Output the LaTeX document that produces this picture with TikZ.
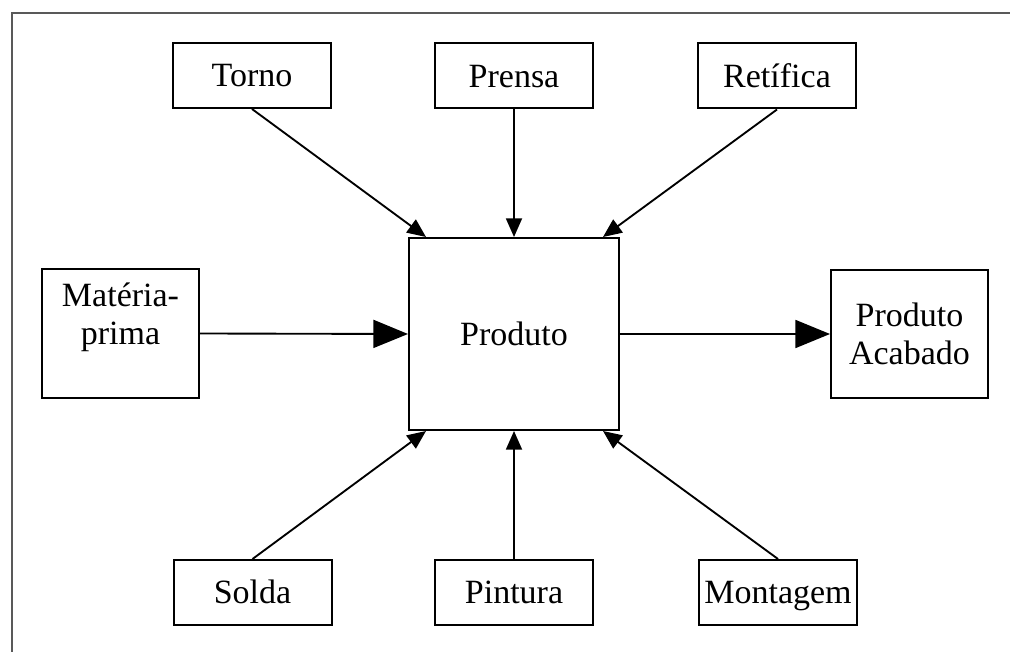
\documentclass[tikz,border=0pt]{standalone}
\usepackage{fontspec}
\setmainfont{Liberation Serif}
\usetikzlibrary{arrows.meta,calc}

\begin{document}
\begin{tikzpicture}[x=0.75pt,y=-0.75pt,
    box/.style={draw,line width=1.5pt,minimum width=158*0.75pt,minimum height=65*0.75pt,inner sep=0pt},
    txt/.style={font=\fontsize{25.5}{28.5}\selectfont,align=center},
    oneline/.style={txt,text height=17pt,text depth=0pt},
    arr/.style={line width=1.4pt,-{Triangle[length=14pt,width=12pt]}},
    bigarr/.style={line width=1.4pt,-{Triangle[length=26pt,width=21pt]}}]
        \useasboundingbox (0,0) rectangle (1010,652);
        \draw[line width=2.2pt,black!65] (12,652)--(12,13)--(1010,13);
        % caixas
        \node[box,oneline] (torno) at (252,75.5) {Torno};
        \node[box,oneline] (prensa) at (514,76) {Prensa};
        \node[box,oneline] (retifica) at (777,76) {Retífica};
        \node[box,oneline] (solda) at (252.5,592.5) {Solda};
        \node[box,oneline] (pintura) at (514,592.5) {Pintura};
        \node[box,oneline] (montagem) at (778,592.5) {Montagem};
        \node[box,minimum width=157*0.75pt,minimum height=129*0.75pt] (materia) at (120.5,333.5) {};
        \node[txt] (materiatxt) at (120.5,317) {Matéria-\\prima};
        \node[box,oneline,minimum width=210*0.75pt,minimum height=192*0.75pt] (produto) at (514,334) {Produto};
        \node[box,txt,minimum width=157*0.75pt,minimum height=128*0.75pt] (acabado) at (909.5,334) {Produto\\Acabado};
        % setas
        \draw[arr] (torno.south) -- ($(produto.north west)+(18,0)$);
        \draw[arr] (prensa.south) -- (produto.north);
        \draw[arr] (retifica.south) -- ($(produto.north east)+(-17,0)$);
        \draw[arr] (solda.north) -- ($(produto.south west)+(18,0)$);
        \draw[arr] (pintura.north) -- (produto.south);
        \draw[arr] (montagem.north) -- ($(produto.south east)+(-17,0)$);
        \draw[bigarr] (materia.east) -- (produto.west);
        \draw[bigarr] (produto.east) -- (acabado.west);
    \end{tikzpicture}
\end{document}
